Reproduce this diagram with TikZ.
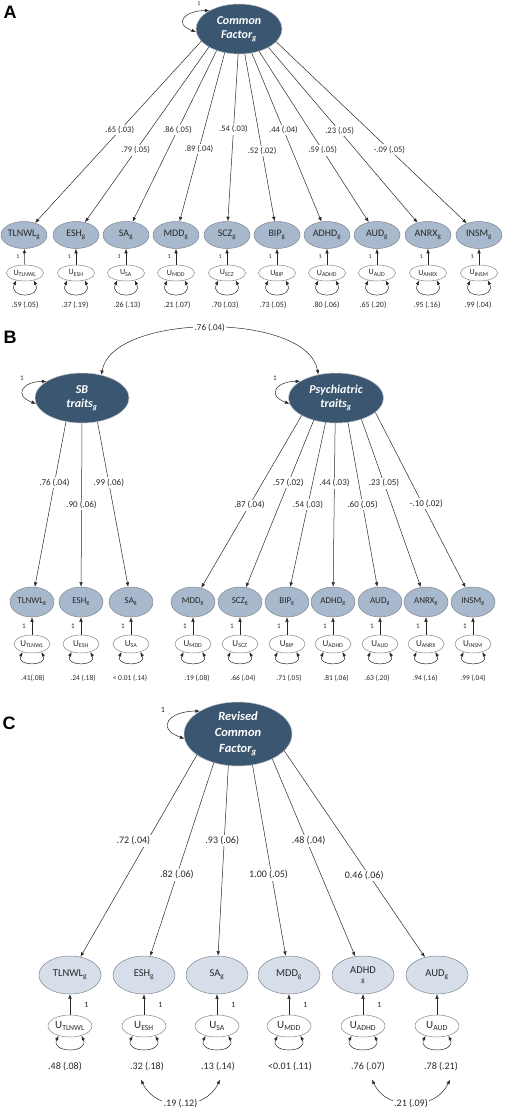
\documentclass[tikz,border=0pt]{standalone}
\usepackage{fontspec}
\setmainfont{Carlito}
\newfontfamily\panelfont{Liberation Sans}
\usetikzlibrary{arrows.meta,shapes.geometric}
\definecolor{factorblue}{RGB}{59,86,113}
\definecolor{indblue}{RGB}{168,184,205}
\definecolor{indpale}{RGB}{214,222,234}
\definecolor{rimgray}{RGB}{128,134,142}
\definecolor{inkgray}{RGB}{40,40,40}
\begin{document}
\begin{tikzpicture}[x=1pt,y=-1pt,color=inkgray,line width=0.5pt,>={Latex[length=4.5pt,width=3.5pt]}]
	\useasboundingbox (0,0) rectangle (505,1110);
	\def \rowAobs{235}
	\def \rowAres{273}
	\def \rowAvar{305}
	\def \rowBlat{398}
	\def \rowBobs{602}
	\def \rowBres{644}
	\def \rowBvar{678}
	\def \rowCobs{975}
	\def \rowCres{1026}
	\def \rowCvar{1067}
	\tikzstyle{f-node}=[ellipse,draw=rimgray!50,fill=factorblue,text=white,align=center,inner sep=0pt,font=\fontsize{12}{14}\selectfont\bfseries\itshape]
	\tikzstyle{i-node}=[ellipse,draw=rimgray,fill=indblue,inner sep=0pt]
	\tikzstyle{u-node}=[ellipse,draw=rimgray,fill=white,inner sep=0pt]
	\tikzstyle{i-a}=[i-node,minimum width=46pt,minimum height=27pt,font=\fontsize{10}{11}\selectfont]
	\tikzstyle{i-b}=[i-node,minimum width=44pt,minimum height=30pt,font=\fontsize{9}{11}\selectfont]
	\tikzstyle{i-c}=[i-node,fill=indpale,align=center,minimum width=62pt,minimum height=38pt,font=\fontsize{10.5}{12}\selectfont]
	\tikzstyle{u-a}=[u-node,minimum width=37pt,minimum height=16pt,font=\fontsize{8}{9}\selectfont]
	\tikzstyle{u-b}=[u-node,minimum width=36pt,minimum height=18pt,font=\fontsize{9}{10}\selectfont]
	\tikzstyle{u-c}=[u-node,minimum width=44pt,minimum height=22pt,font=\fontsize{11}{12}\selectfont]
	\tikzstyle{load-a}=[fill=white,inner sep=1.5pt,font=\fontsize{8.5}{10}\selectfont]
	\tikzstyle{load-b}=[fill=white,inner sep=1.5pt,font=\fontsize{9}{10}\selectfont]
	\tikzstyle{load-c}=[fill=white,inner sep=1.5pt,font=\fontsize{10}{11}\selectfont]
	\tikzstyle{var-a}=[inner sep=2pt,font=\fontsize{8}{9}\selectfont]
	\tikzstyle{var-b}=[inner sep=2pt,font=\fontsize{7.5}{9}\selectfont]
	\tikzstyle{var-c}=[inner sep=2pt,font=\fontsize{10}{11}\selectfont]
	\tikzstyle{one-a}=[inner sep=1pt,font=\fontsize{6}{7}\selectfont]
	\tikzstyle{one-b}=[inner sep=1pt,font=\fontsize{7}{8}\selectfont]
	\tikzstyle{one-c}=[inner sep=1pt,font=\fontsize{8}{9}\selectfont]
	\tikzstyle{selfloop}=[<->,out=180,in=160,looseness=2.5]
	\tikzstyle{varloop}=[<->,out=-115,in=-65,looseness=2.2]
	\tikzstyle{corr-top}=[<->,out=80,in=100,looseness=0.75]
	\tikzstyle{corr-low}=[<->,out=-65,in=-115,looseness=1.15]
	\tikzstyle{panel}=[text=black,font=\panelfont\bfseries\fontsize{18}{20}\selectfont]

	% panel A: common factor
	\node[panel] 	(tagA)	at (10,12)	{A};
	\node[f-node,minimum width=86pt,minimum height=50pt] 	(cfa)	at (239,29)	{Common\\Factor\textsubscript{g}};
	\node[one-a] 	(one-cfa)	at (199,4)	{1};
	\node[i-a] 	(a1)	at (24,\rowAobs)	{TLNWL\textsubscript{g}};
	\node[i-a] 	(a2)	at (76,\rowAobs)	{ESH\textsubscript{g}};
	\node[i-a] 	(a3)	at (126,\rowAobs)	{SA\textsubscript{g}};
	\node[i-a] 	(a4)	at (176,\rowAobs)	{MDD\textsubscript{g}};
	\node[i-a] 	(a5)	at (227,\rowAobs)	{SCZ\textsubscript{g}};
	\node[i-a] 	(a6)	at (277,\rowAobs)	{BIP\textsubscript{g}};
	\node[i-a] 	(a7)	at (327,\rowAobs)	{ADHD\textsubscript{g}};
	\node[i-a] 	(a8)	at (377,\rowAobs)	{AUD\textsubscript{g}};
	\node[i-a] 	(a9)	at (428,\rowAobs)	{ANRX\textsubscript{g}};
	\node[i-a] 	(a10)	at (479,\rowAobs)	{INSM\textsubscript{g}};
	% residuals
	\node[u-a] 	(ua1)	at (25,\rowAres)	{U\textsubscript{TLNWL}};
	\node[u-a] 	(ua2)	at (76,\rowAres)	{U\textsubscript{ESH}};
	\node[u-a] 	(ua3)	at (126,\rowAres)	{U\textsubscript{SA}};
	\node[u-a] 	(ua4)	at (176,\rowAres)	{U\textsubscript{MDD}};
	\node[u-a] 	(ua5)	at (227,\rowAres)	{U\textsubscript{SCZ}};
	\node[u-a] 	(ua6)	at (277,\rowAres)	{U\textsubscript{BIP}};
	\node[u-a] 	(ua7)	at (327,\rowAres)	{U\textsubscript{ADHD}};
	\node[u-a] 	(ua8)	at (377,\rowAres)	{U\textsubscript{AUD}};
	\node[u-a] 	(ua9)	at (428,\rowAres)	{U\textsubscript{ANRX}};
	\node[u-a] 	(ua10)	at (479,\rowAres)	{U\textsubscript{INSM}};
	% residual variances
	\node[var-a] 	(va1)	at (25,\rowAvar)	{.59 (.05)};
	\node[var-a] 	(va2)	at (75,\rowAvar)	{.37 (.19)};
	\node[var-a] 	(va3)	at (127,\rowAvar)	{.26 (.13)};
	\node[var-a] 	(va4)	at (177,\rowAvar)	{.21 (.07)};
	\node[var-a] 	(va5)	at (225,\rowAvar)	{.70 (.03)};
	\node[var-a] 	(va6)	at (273,\rowAvar)	{.73 (.05)};
	\node[var-a] 	(va7)	at (326,\rowAvar)	{.80 (.06)};
	\node[var-a] 	(va8)	at (373,\rowAvar)	{.65 (.20)};
	\node[var-a] 	(va9)	at (427,\rowAvar)	{.95 (.16)};
	\node[var-a] 	(va10)	at (478,\rowAvar)	{.99 (.04)};

	\path[->]
		(cfa.198)	edge	node[load-a,pos=.49]	{.65 (.03)}	(a1)
		(cfa.211)	edge	node[load-a,pos=.59]	{.79 (.05)}	(a2)
		(cfa.224)	edge	node[load-a,pos=.465]	{.86 (.05)}	(a3)
		(cfa.239)	edge	node[load-a,pos=.57]	{.89 (.04)}	(a4)
		(cfa.268)	edge	node[load-a,pos=.45]	{.54 (.03)}	(a5)
		(cfa.283)	edge	node[load-a,pos=.58]	{.52 (.02)}	(a6)
		(cfa.298)	edge	node[load-a,pos=.455]	{.44 (.04)}	(a7)
		(cfa.312)	edge	node[load-a,pos=.58]	{.59 (.05)}	(a8)
		(cfa.328)	edge	node[load-a,pos=.477]	{.23 (.05)}	(a9)
		(cfa.341)	edge	node[load-a,pos=.594]	{-.09 (.05)}	(a10)
		%
		(ua1)	edge	node[one-a,left=4pt]	{1}	(a1)
		(ua2)	edge	node[one-a,left=4pt]	{1}	(a2)
		(ua3)	edge	node[one-a,left=4pt]	{1}	(a3)
		(ua4)	edge	node[one-a,left=4pt]	{1}	(a4)
		(ua5)	edge	node[one-a,left=4pt]	{1}	(a5)
		(ua6)	edge	node[one-a,left=4pt]	{1}	(a6)
		(ua7)	edge	node[one-a,left=4pt]	{1}	(a7)
		(ua8)	edge	node[one-a,left=4pt]	{1}	(a8)
		(ua9)	edge	node[one-a,left=4pt]	{1}	(a9)
		(ua10)	edge	node[one-a,left=4pt]	{1}	(a10);
	\path[varloop/.append style={looseness=3}]
		(cfa.148)	edge[selfloop]	(cfa.184)
		(ua1.-140)	edge[varloop]	(ua1.-40)
		(ua2.-140)	edge[varloop]	(ua2.-40)
		(ua3.-140)	edge[varloop]	(ua3.-40)
		(ua4.-140)	edge[varloop]	(ua4.-40)
		(ua5.-140)	edge[varloop]	(ua5.-40)
		(ua6.-140)	edge[varloop]	(ua6.-40)
		(ua7.-140)	edge[varloop]	(ua7.-40)
		(ua8.-140)	edge[varloop]	(ua8.-40)
		(ua9.-140)	edge[varloop]	(ua9.-40)
		(ua10.-140)	edge[varloop]	(ua10.-40);

	% panel B: two correlated factors
	\node[panel] 	(tagB)	at (10,337)	{B};
	\node[f-node,minimum width=94pt,minimum height=50pt] 	(sbt)	at (82,\rowBlat)	{SB\\traits\textsubscript{g}};
	\node[f-node,minimum width=95pt,minimum height=50pt] 	(pst)	at (336,\rowBlat)	{Psychiatric\\traits\textsubscript{g}};
	\node[one-b] 	(one-sbt)	at (22,378)	{1};
	\node[one-b] 	(one-pst)	at (275,378)	{1};
	\node[i-b] 	(b1)	at (32,\rowBobs)	{TLNWL\textsubscript{g}};
	\node[i-b] 	(b2)	at (81,\rowBobs)	{ESH\textsubscript{g}};
	\node[i-b] 	(b3)	at (131,\rowBobs)	{SA\textsubscript{g}};
	\node[i-b] 	(b4)	at (193,\rowBobs)	{MDD\textsubscript{g}};
	\node[i-b] 	(b5)	at (240,\rowBobs)	{SCZ\textsubscript{g}};
	\node[i-b] 	(b6)	at (287,\rowBobs)	{BIP\textsubscript{g}};
	\node[i-b] 	(b7)	at (333,\rowBobs)	{ADHD\textsubscript{g}};
	\node[i-b] 	(b8)	at (380,\rowBobs)	{AUD\textsubscript{g}};
	\node[i-b] 	(b9)	at (426,\rowBobs)	{ANRX\textsubscript{g}};
	\node[i-b] 	(b10)	at (473,\rowBobs)	{INSM\textsubscript{g}};
	% residuals
	\node[u-b] 	(ub1)	at (32,\rowBres)	{U\textsubscript{TLNWL}};
	\node[u-b] 	(ub2)	at (81,\rowBres)	{U\textsubscript{ESH}};
	\node[u-b] 	(ub3)	at (131,\rowBres)	{U\textsubscript{SA}};
	\node[u-b] 	(ub4)	at (193,\rowBres)	{U\textsubscript{MDD}};
	\node[u-b] 	(ub5)	at (240,\rowBres)	{U\textsubscript{SCZ}};
	\node[u-b] 	(ub6)	at (287,\rowBres)	{U\textsubscript{BIP}};
	\node[u-b] 	(ub7)	at (333,\rowBres)	{U\textsubscript{ADHD}};
	\node[u-b] 	(ub8)	at (380,\rowBres)	{U\textsubscript{AUD}};
	\node[u-b] 	(ub9)	at (426,\rowBres)	{U\textsubscript{ANRX}};
	\node[u-b] 	(ub10)	at (473,\rowBres)	{U\textsubscript{INSM}};
	% residual variances
	\node[var-b] 	(vb1)	at (33,\rowBvar)	{.41(.08)};
	\node[var-b] 	(vb2)	at (83,\rowBvar)	{.24 (.18)};
	\node[var-b] 	(vb3)	at (130,\rowBvar)	{< 0.01 (.14)};
	\node[var-b] 	(vb4)	at (197,\rowBvar)	{.19 (.08)};
	\node[var-b] 	(vb5)	at (243,\rowBvar)	{.66 (.04)};
	\node[var-b] 	(vb6)	at (289,\rowBvar)	{.71 (.05)};
	\node[var-b] 	(vb7)	at (336,\rowBvar)	{.81 (.06)};
	\node[var-b] 	(vb8)	at (377,\rowBvar)	{.63 (.20)};
	\node[var-b] 	(vb9)	at (425,\rowBvar)	{.94 (.16)};
	\node[var-b] 	(vb10)	at (473,\rowBvar)	{.99 (.04)};

	\path[->]
		(sbt.236)	edge	node[load-b,pos=.37]	{.76 (.04)}	(b1)
		(sbt.270)	edge	node[load-b,pos=.5]	{.90 (.06)}	(b2)
		(sbt.303)	edge	node[load-b,pos=.37]	{.99 (.06)}	(b3)
		(pst.207)	edge	node[load-b,pos=.52]	{.87 (.04)}	(b4)
		(pst.225)	edge	node[load-b,pos=.374]	{.57 (.02)}	(b5)
		(pst.247)	edge	node[load-b,pos=.5]	{.54 (.03)}	(b6)
		(pst.268)	edge	node[load-b,pos=.366]	{.44 (.03)}	(b7)
		(pst.296)	edge	node[load-b,pos=.5]	{.60 (.05)}	(b8)
		(pst.320)	edge	node[load-b,pos=.38]	{.23 (.05)}	(b9)
		(pst.340)	edge	node[load-b,pos=.52,xshift=4pt]	{-.10 (.02)}	(b10)
		%
		(ub1)	edge	node[one-b,left=5pt]	{1}	(b1)
		(ub2)	edge	node[one-b,left=5pt]	{1}	(b2)
		(ub3)	edge	node[one-b,left=5pt]	{1}	(b3)
		(ub4)	edge	node[one-b,left=5pt]	{1}	(b4)
		(ub5)	edge	node[one-b,left=5pt]	{1}	(b5)
		(ub6)	edge	node[one-b,left=5pt]	{1}	(b6)
		(ub7)	edge	node[one-b,left=5pt]	{1}	(b7)
		(ub8)	edge	node[one-b,left=5pt]	{1}	(b8)
		(ub9)	edge	node[one-b,left=5pt]	{1}	(b9)
		(ub10)	edge	node[one-b,left=5pt]	{1}	(b10);
	\path
		(sbt.50)	edge[corr-top]	node[load-b]	{.76 (.04)}	(pst.127)
		(sbt.155)	edge[selfloop]	(sbt.187)
		(pst.155)	edge[selfloop]	(pst.187)
		(ub1.-140)	edge[varloop]	(ub1.-40)
		(ub2.-140)	edge[varloop]	(ub2.-40)
		(ub3.-140)	edge[varloop]	(ub3.-40)
		(ub4.-140)	edge[varloop]	(ub4.-40)
		(ub5.-140)	edge[varloop]	(ub5.-40)
		(ub6.-140)	edge[varloop]	(ub6.-40)
		(ub7.-140)	edge[varloop]	(ub7.-40)
		(ub8.-140)	edge[varloop]	(ub8.-40)
		(ub9.-140)	edge[varloop]	(ub9.-40)
		(ub10.-140)	edge[varloop]	(ub10.-40);

	% panel C: revised common factor
	\node[panel] 	(tagC)	at (9,723)	{C};
	\node[f-node,minimum width=108pt,minimum height=64pt,font=\fontsize{12.5}{16}\selectfont\bfseries\itshape] 	(cfc)	at (238,734)	{Revised\\Common\\Factor\textsubscript{g}};
	\node[one-c] 	(one-cfc)	at (163,710)	{1};
	\node[i-c] 	(c1)	at (70,\rowCobs)	{TLNWL\textsubscript{g}};
	\node[i-c] 	(c2)	at (144,\rowCobs)	{ESH\textsubscript{g}};
	\node[i-c] 	(c3)	at (217,\rowCobs)	{SA\textsubscript{g}};
	\node[i-c] 	(c4)	at (289,\rowCobs)	{MDD\textsubscript{g}};
	\node[i-c] 	(c5)	at (363,\rowCobs)	{ADHD\\[-3pt]{\fontsize{7}{7}\selectfont g}};
	\node[i-c] 	(c6)	at (437,\rowCobs)	{AUD\textsubscript{g}};
	% residuals
	\node[u-c] 	(uc1)	at (70,\rowCres)	{U\textsubscript{TLNWL}};
	\node[u-c] 	(uc2)	at (144,\rowCres)	{U\textsubscript{ESH}};
	\node[u-c] 	(uc3)	at (217,\rowCres)	{U\textsubscript{SA}};
	\node[u-c] 	(uc4)	at (289,\rowCres)	{U\textsubscript{MDD}};
	\node[u-c] 	(uc5)	at (363,\rowCres)	{U\textsubscript{ADHD}};
	\node[u-c] 	(uc6)	at (437,\rowCres)	{U\textsubscript{AUD}};
	% residual variances
	\node[var-c] 	(vc1)	at (65,\rowCvar)	{.48 (.08)};
	\node[var-c] 	(vc2)	at (147,\rowCvar)	{.32 (.18)};
	\node[var-c] 	(vc3)	at (218,\rowCvar)	{.13 (.14)};
	\node[var-c] 	(vc4)	at (290,\rowCvar)	{<0.01 (.11)};
	\node[var-c] 	(vc5)	at (368,\rowCvar)	{.76 (.07)};
	\node[var-c] 	(vc6)	at (441,\rowCvar)	{.78 (.21)};

	\path[->]
		(cfc.207)	edge	node[load-c,pos=.425,xshift=-14pt]	{.72 (.04)}	(c1)
		(cfc.230)	edge	node[load-c,pos=.58]	{.82 (.06)}	(c2)
		(cfc.253)	edge	node[load-c,pos=.393,xshift=-2pt]	{.93 (.06)}	(c3)
		(cfc.295)	edge	node[load-c,pos=.575,xshift=-3pt]	{1.00 (.05)}	(c4)
		(cfc.324)	edge	node[load-c,pos=.414,xshift=2pt]	{.48 (.04)}	(c5)
		(cfc.340)	edge	node[load-c,pos=.604,xshift=-5pt]	{0.46 (.06)}	(c6)
		%
		(uc1)	edge	node[one-c,right=13pt]	{1}	(c1)
		(uc2)	edge	node[one-c,right=13pt]	{1}	(c2)
		(uc3)	edge	node[one-c,right=13pt]	{1}	(c3)
		(uc4)	edge	node[one-c,right=13pt]	{1}	(c4)
		(uc5)	edge	node[one-c,right=13pt]	{1}	(c5)
		(uc6)	edge	(c6);
	\path
		(cfc.149)	edge[selfloop]	(cfc.185)
		(uc1.-140)	edge[varloop]	(uc1.-40)
		(uc2.-140)	edge[varloop]	(uc2.-40)
		(uc3.-140)	edge[varloop]	(uc3.-40)
		(uc4.-140)	edge[varloop]	(uc4.-40)
		(uc5.-140)	edge[varloop]	(uc5.-40)
		(uc6.-140)	edge[varloop]	(uc6.-40)
		% correlated residuals
		([shift={(-6pt,-6pt)}]vc2.south)	edge[corr-low]	node[load-c]	{.19 (.12)}	([shift={(2pt,-6pt)}]vc3.south)
		([shift={(4pt,-6pt)}]vc5.south)	edge[corr-low]	node[load-c]	{.21 (.09)}	([shift={(9pt,-6pt)}]vc6.south);
\end{tikzpicture}
\end{document}
